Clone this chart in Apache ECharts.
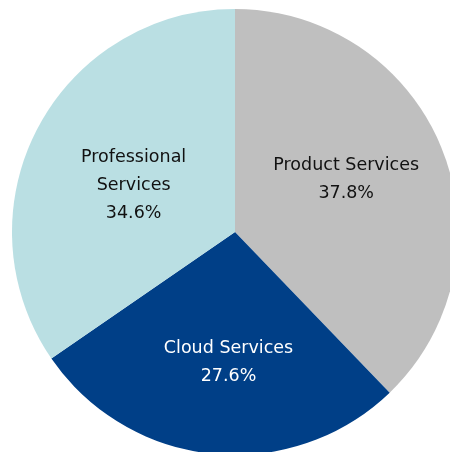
<!DOCTYPE html>
<html>
<head>
<meta charset="utf-8">
<script src="https://cdn.jsdelivr.net/npm/echarts@6/dist/echarts.min.js"></script>
<style>
  html, body { margin: 0; padding: 0; background: #fff; }
  #chart { width: 450px; height: 452px; }
</style>
</head>
<body>
<div id="chart"></div>
<script>
  // 事業別の構成比
  const segments = ['Product Services', 'Cloud Services', 'Professional\nServices']
  const shares = [37.8, 27.6, 34.6]
  const colors = ['#bfbfbf', '#003f87', '#badfe3']
  const labelColors = ['#111', '#fff', '#111']
  // ラベルの微調整
  const nudges = [[5, -10], [5, 17], [0, 7]]

  const myChart = echarts.init(document.getElementById('chart'))

  myChart.setOption({
    animation: false,
    series: [
      {
        type: 'pie',
        center: [235, 232],
        radius: 223,
        startAngle: 90,
        clockwise: true,
        label: {
          position: 'inside',
          formatter: '{b}\n{d}%',
          fontFamily: 'DejaVu Sans',
          fontSize: 17.5,
          lineHeight: 28,
        },
        labelLine: { show: false },
        labelLayout: (params) => ({
          dx: nudges[params.dataIndex][0],
          dy: nudges[params.dataIndex][1],
        }),
        emphasis: { disabled: true },
        data: segments.map((name, i) => ({
          name,
          value: shares[i],
          itemStyle: { color: colors[i] },
          label: { color: labelColors[i] },
        })),
      },
    ],
  })
</script>
</body>
</html>
